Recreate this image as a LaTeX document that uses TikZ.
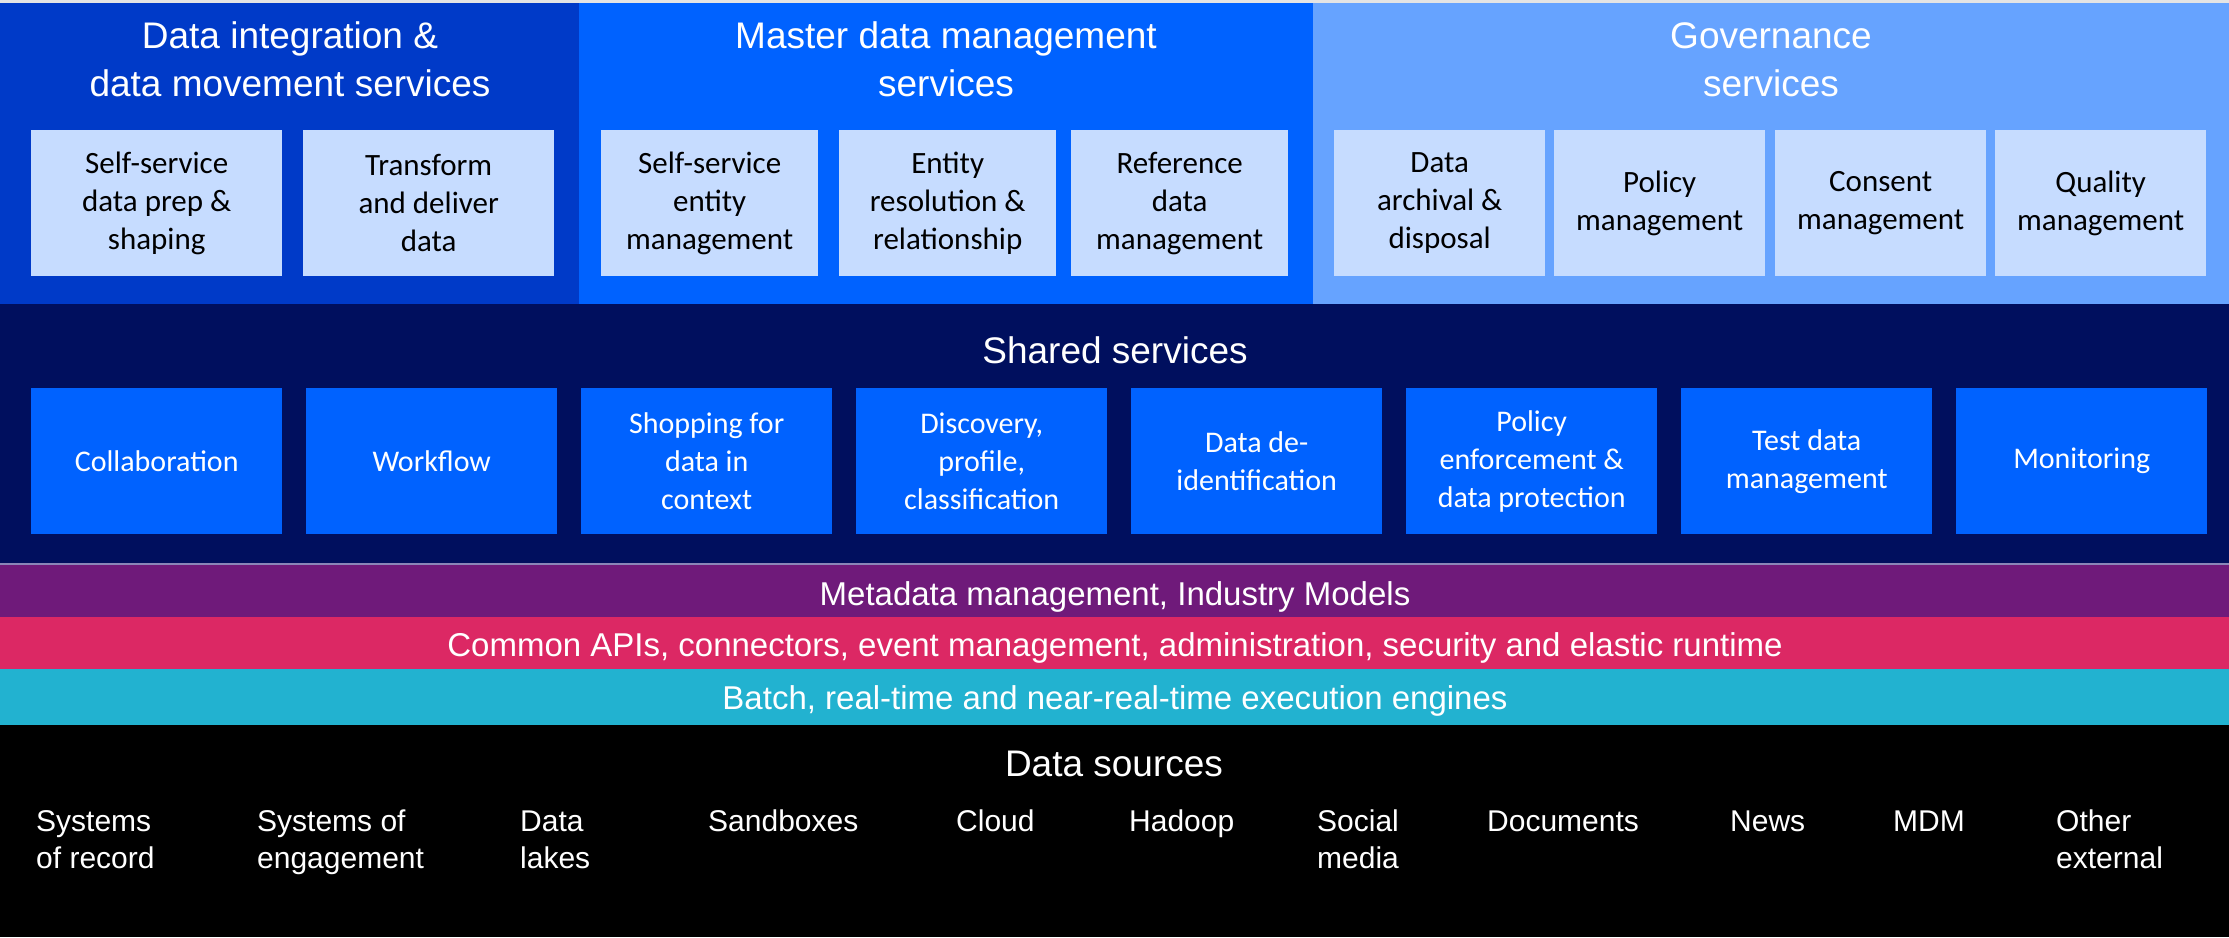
\documentclass[tikz,border=0pt]{standalone}
\usepackage{fontspec}
\setmainfont{Liberation Sans}
\newfontfamily\calfont{Carlito}
\definecolor{dimblue}{HTML}{003AC8}
\definecolor{mdmblue}{HTML}{0062FF}
\definecolor{govblue}{HTML}{66A3FF}
\definecolor{boxblue}{HTML}{C6DCFF}
\definecolor{navy}{HTML}{000F5E}
\definecolor{metapurple}{HTML}{6F1A7A}
\definecolor{apipink}{HTML}{DC2864}
\definecolor{execcyan}{HTML}{22B2D0}
\definecolor{topgray}{HTML}{E4E4E4}
\definecolor{sepline}{HTML}{8A86B8}
\tikzset{
  topbox/.style={fill=boxblue, text=black, font=\calfont\fontsize{31}{38}\selectfont,
    align=center, minimum width=#1, minimum height=146pt, inner sep=0pt, anchor=north west},
  sharedbox/.style={fill=mdmblue, text=white, font=\calfont\fontsize{30}{38}\selectfont,
    align=center, minimum width=251pt, minimum height=146pt, inner sep=0pt, anchor=north west},
  heading/.style={text=white, font=\fontsize{37}{48}\selectfont, align=center, inner sep=0pt, anchor=base},
  bandtext/.style={text=white, font=\fontsize{33}{40}\selectfont, inner sep=0pt, anchor=base},
  srcitem/.style={text=white, font=\fontsize{30}{37}\selectfont, align=left, inner sep=0pt, anchor=base west}
}
\begin{document}
\begin{tikzpicture}[x=1pt,y=-1pt]
\useasboundingbox (0,0) rectangle (2229,937);
% background bands
\fill[topgray] (0,0) rectangle (2229,3);
\fill[dimblue] (0,3) rectangle (579,304);
\fill[mdmblue] (579,3) rectangle (1313,304);
\fill[govblue] (1313,3) rectangle (2229,304);
\fill[navy] (0,304) rectangle (2229,564);
\fill[metapurple] (0,564) rectangle (2229,617);
\fill[apipink] (0,617) rectangle (2229,669);
\fill[execcyan] (0,669) rectangle (2229,725);
\fill[black] (0,725) rectangle (2229,937);
\draw[sepline, line width=1.5pt] (0,564) -- (2229,564);

% headings (anchor = baseline of the last line)
\node[heading] (hdi) at (290,96) {Data integration \&\\data movement services};
\node[heading] (hmdm) at (946,96) {Master data management\\services};
\node[heading] (hgov) at (1771,96) {Governance\\services};

% top boxes
\node[topbox=251pt] (b1) at (31,130) {Self-service\\data prep \& \\shaping};
\node[topbox=251pt] (b2) at (303,130) {Transform\\and deliver\\data};
\node[topbox=217pt] (b3) at (601,130) {Self-service\\entity\\management};
\node[topbox=217pt] (b4) at (839,130) {Entity\\resolution \&\\relationship};
\node[topbox=217pt] (b5) at (1071,130) {Reference\\data\\management};
\node[topbox=211pt] (b6) at (1334,130) {Data\\archival \&\\disposal};
\node[topbox=211pt] (b7) at (1554,130) {Policy\\management};
\node[topbox=211pt] (b8) at (1775,130) {Consent\\management};
\node[topbox=211pt] (b9) at (1995,130) {Quality\\management};

% shared services
\node[heading] (hshared) at (1115,363) {Shared services};
\node[sharedbox] (s1) at (31,388) {Collaboration};
\node[sharedbox] (s2) at (306,388) {Workflow};
\node[sharedbox] (s3) at (581,388) {Shopping for\\data in\\context};
\node[sharedbox] (s4) at (856,388) {Discovery,\\profile,\\classification};
\node[sharedbox] (s5) at (1131,388) {Data de-\\identification};
\node[sharedbox] (s6) at (1406,388) {Policy\\enforcement \&\\data protection};
\node[sharedbox] (s7) at (1681,388) {Test data\\management};
\node[sharedbox] (s8) at (1956,388) {Monitoring};

% bands
\node[bandtext] (tmeta) at (1115,605) {Metadata management, Industry Models};
\node[bandtext] (tapi) at (1115,656) {Common APIs, connectors, event management, administration, security and elastic runtime};
\node[bandtext] (texec) at (1115,709) {Batch, real-time and near-real-time execution engines};

% data sources (anchor = baseline of the last line)
\node[heading] (hsrc) at (1114,776) {Data sources};
\node[srcitem] (d1) at (36,868) {Systems\\of record};
\node[srcitem] (d2) at (257,868) {Systems of\\engagement};
\node[srcitem] (d3) at (520,868) {Data\\lakes};
\node[srcitem] (d4) at (708,831) {Sandboxes};
\node[srcitem] (d5) at (956,831) {Cloud};
\node[srcitem] (d6) at (1129,831) {Hadoop};
\node[srcitem] (d7) at (1317,868) {Social\\media};
\node[srcitem] (d8) at (1487,831) {Documents};
\node[srcitem] (d9) at (1730,831) {News};
\node[srcitem] (d10) at (1893,831) {MDM};
\node[srcitem] (d11) at (2056,868) {Other\\external};
\end{tikzpicture}
\end{document}
